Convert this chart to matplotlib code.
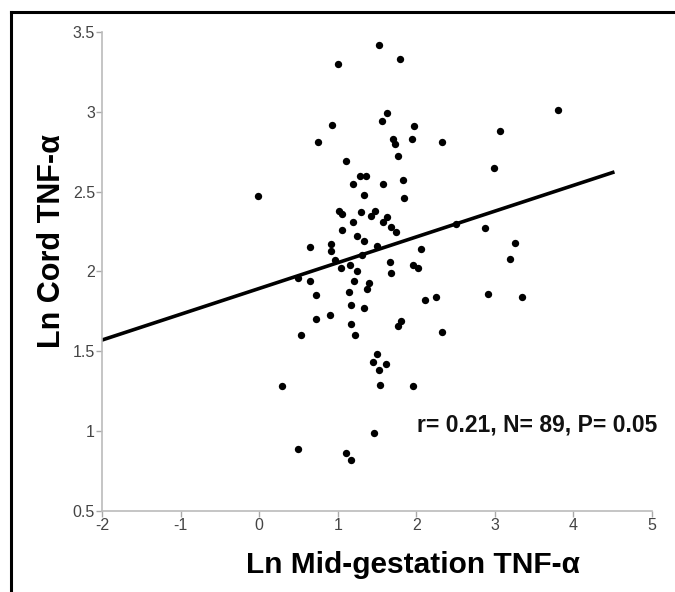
import matplotlib
matplotlib.use("Agg")
import matplotlib.pyplot as plt
from matplotlib.lines import Line2D

# scatter data (Ln mid-gestation vs Ln cord TNF-a)
mid_tnf = [1.53, 1.79, 1.00, 3.80, 1.63, 1.57, 0.93, 1.97, 3.06, 0.75,
           1.70, 1.73, 1.95, 2.33, 1.77, 1.10, 2.99, 1.29, 1.36, 1.83,
           1.19, 1.58, 1.33, -0.02, 1.85, 1.02, 1.06, 1.30, 1.47, 1.43,
           1.63, 1.58, 1.19, 2.51, 2.87, 1.05, 1.68, 1.74, 1.25, 1.33,
           3.25, 0.91, 0.65, 0.91, 1.50, 2.06, 1.31, 0.96, 3.19, 1.67,
           1.16, 1.04, 1.96, 2.02, 1.25, 1.68, 0.50, 0.65, 1.21, 1.40,
           1.37, 1.14, 2.91, 0.72, 2.25, 3.35, 2.11, 1.17, 1.34, 0.90,
           0.72, 1.80, 1.77, 1.17, 2.33, 0.53, 1.22, 1.50, 1.45, 1.61,
           1.53, 1.54, 0.29, 1.96, 1.46, 0.50, 1.10, 1.17]
cord_tnf = [3.42, 3.33, 3.30, 3.01, 2.99, 2.94, 2.92, 2.91, 2.88, 2.81,
            2.83, 2.80, 2.83, 2.81, 2.72, 2.69, 2.65, 2.60, 2.60, 2.57,
            2.55, 2.55, 2.48, 2.47, 2.46, 2.38, 2.36, 2.37, 2.38, 2.35,
            2.34, 2.31, 2.31, 2.30, 2.27, 2.26, 2.28, 2.25, 2.22, 2.19,
            2.18, 2.17, 2.15, 2.13, 2.16, 2.14, 2.10, 2.07, 2.08, 2.06,
            2.04, 2.02, 2.04, 2.02, 2.00, 1.99, 1.96, 1.94, 1.94, 1.93,
            1.89, 1.87, 1.86, 1.85, 1.84, 1.84, 1.82, 1.79, 1.77, 1.73,
            1.70, 1.69, 1.66, 1.67, 1.62, 1.60, 1.60, 1.48, 1.43, 1.42,
            1.38, 1.29, 1.28, 1.28, 0.99, 0.89, 0.86, 0.82]

# fitted regression line end points
fit_x = [-2.0, 4.5]
fit_y = [1.57, 2.62]

x_ticks = [-2, -1, 0, 1, 2, 3, 4, 5]
y_ticks = [0.5, 1, 1.5, 2, 2.5, 3, 3.5]
y_tick_labels = ['0.5', '1', '1.5', '2', '2.5', '3', '3.5']
stats_text = 'r= 0.21, N= 89, P= 0.05'

plt.rcParams['font.family'] = ['Liberation Sans', 'DejaVu Sans']
plt.rcParams['axes.unicode_minus'] = False

fig = plt.figure(figsize=(6.75, 5.92), dpi=100)
ax = fig.add_axes([0.151, 0.137, 0.815, 0.809])

ax.scatter(mid_tnf, cord_tnf, s=28, color='black', zorder=3, linewidths=0)
ax.plot(fit_x, fit_y, color='black', lw=2.6, zorder=2)

ax.set_xlim(-2, 5)
ax.set_ylim(0.5, 3.5)
ax.set_xticks(x_ticks)
ax.set_yticks(y_ticks)
ax.set_yticklabels(y_tick_labels)
for lab in ax.get_xticklabels() + ax.get_yticklabels():
    lab.set_fontsize(11.5)
    lab.set_color('#444444')

for side in ('top', 'right'):
    ax.spines[side].set_visible(False)
for side in ('left', 'bottom'):
    ax.spines[side].set_color('#bbbbbb')
    ax.spines[side].set_linewidth(1.2)
ax.tick_params(colors='#aaaaaa', length=4, width=1, pad=1, labelcolor='#444444')

ax.set_xlabel('Ln Mid-gestation TNF-α', fontsize=21.5, fontweight='bold')
ax.set_ylabel('Ln Cord TNF-α', fontsize=22, fontweight='bold')
ax.xaxis.set_label_coords(0.565, -0.083)
ax.yaxis.set_label_coords(-0.064, 0.564)

ax.text(2.01, 1.04, stats_text, fontsize=16.5, fontweight='bold',
        va='center', ha='left', color='#111111')

# outer frame, only top and left edges are visible in the source image
fig.add_artist(Line2D([11 / 675, 1], [1 - 12 / 592, 1 - 12 / 592],
                      transform=fig.transFigure, color='black', lw=2.2))
fig.add_artist(Line2D([11 / 675, 11 / 675], [0, 1 - 12 / 592],
                      transform=fig.transFigure, color='black', lw=2.2))

fig.savefig('out.png', dpi=100)
